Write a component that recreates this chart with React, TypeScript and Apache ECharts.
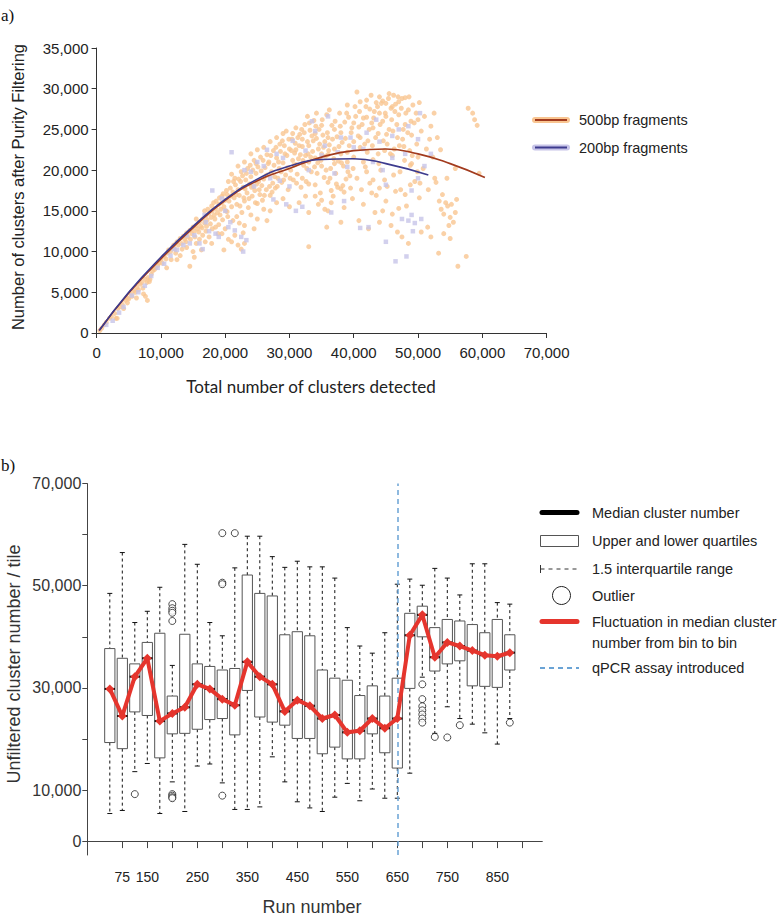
import React, { useEffect, useRef } from "react";
import * as echarts from "echarts";

// ---------------- Panel a data ----------------
// fitted curves (cluster counts)
const curve500X = [400, 5000, 10000, 15000, 20000, 25000, 30000, 35000, 40000, 45000, 50000, 55000, 60400];
const curve500Y = [300, 4900, 9100, 12900, 16300, 18700, 20200, 21600, 22400, 22600, 22000, 20800, 19100];
const curve200X = [400, 5000, 10000, 15000, 20000, 25000, 30000, 35000, 40000, 45000, 51600];
const curve200Y = [300, 5000, 9300, 13100, 16400, 18900, 20500, 21300, 21400, 20800, 19400];

// scatter points, in thousands of clusters [detected, after purity filtering]
const points500k: number[][] = [
  [0.5,0.3],[0.8,0.6],[1.2,1.0],[1.5,1.3],[2,1.8],[2.3,2.0],[2.8,2.4],[3,1.8],[3.3,3.0],[3.6,3.2],[4,3.5],[4.2,3.0],[4.5,4.0],[4.8,4.3],[5,4.2],[5.3,4.8],[5.5,4.5],[5.8,5.2],[6,5.0],[6.3,5.6],[6.5,5.3],[6.8,6.0],[7,6.2],[7.2,5.5],[7.5,6.6],[7.6,4.5],[7.8,6.2],[7.9,4.0],[8,6.8],[8.2,6.3],[8.3,6.6],[8.5,7.2],[8.7,7.6],[9,7.8],[9.2,8.0],[9.5,8.3],[9.7,8.6],[10,9.0],[3.2,1.8],[4.8,3.7],[6.2,4.3],[7.3,4.8],
  [10.2,8.6],[10.5,9.4],[10.8,9.1],[11,9.8],[11.2,10.2],[11.5,10.0],[11.8,10.5],[12,10.8],[12.2,10.3],[12.5,11.2],[12.7,10.8],[13,11.6],[13.2,11.0],[13.5,11.9],[13.7,11.5],[14,12.3],[14.2,11.8],[14.5,12.6],[14.8,12.2],[15,13.0],[15.2,12.5],[15.5,13.2],[15.7,12.8],[16,13.6],[16.2,13.1],[16.5,14.0],[16.8,13.5],[17,14.4],[17.2,13.9],[17.5,14.7],[17.8,14.2],[18,15.0],[18.3,14.5],[18.5,15.3],[18.8,14.8],[19,15.8],[19.3,15.2],[19.5,16.0],[19.8,15.5],[20,16.3],
  [12.5,9.0],[13,9.5],[14,10.5],[14.5,8.2],[15,10.0],[15.5,11.0],[16,11.5],[16.5,12.0],[17,12.5],[17.5,11.8],[18,12.8],[18.5,13.0],[19,13.3],[19.5,12.2],[20,12.8],[16.3,10.2],[15.2,9.3],[20.5,11.5],[21,11.2],[21.5,12.0],[22,10.8],[22.5,10.3],[23,11.0],[19.8,10.2],
  [15.5,14.0],[16.8,15.0],[18.2,16.0],[19.5,16.8],[20.2,17.5],
  [20.3,17.0],[20.6,16.2],[20.8,17.8],[21,15.5],[21.2,17.3],[21.4,16.6],[21.6,18.2],[21.8,15.8],[22,17.6],[22.2,16.9],[22.4,18.6],[22.6,14.8],[22.8,17.9],[23,16.2],[23.2,18.8],[23.4,17.2],[23.6,15.4],[23.8,18.3],[24,19.2],[24.2,16.8],[24.4,18.0],[24.6,17.5],[24.8,19.6],[25,15.9],[25.2,18.6],[25.4,17.0],[25.6,19.9],[25.8,16.3],[26,18.9],[26.2,20.3],[26.4,17.6],[26.6,19.4],[26.8,21.0],[27,16.9],[27.2,19.8],[27.4,18.4],[27.6,20.6],[27.8,17.8],[28,21.5],[28.2,19.0],[28.4,20.2],[28.6,22.3],[28.8,18.5],[29,20.9],[29.2,23.0],[29.4,19.4],[29.6,21.8],[29.8,17.6],[30,22.6],
  [21,19.5],[22,20.5],[23,21.0],[24,22.0],[24.5,21.2],[25,22.5],[26,22.8],[27,23.5],[28,24.0],[29,24.5],[23.5,20.2],[25.5,21.6],[26.5,21.9],[27.5,22.4],[28.5,23.2],[29.5,24.8],[22.5,19.8],[20.5,18.6],[21.5,19.0],[24.8,20.8],
  [24,14.5],[25,14.0],[26,15.2],[27,15.0],[28,16.0],[29,16.5],[30,15.5],[23,13.2],[24.5,12.8],[22.8,12.3],[26.5,13.8],
  [30.2,20.0],[30.4,23.8],[30.6,18.8],[30.8,22.1],[31,25.2],[31.2,19.5],[31.4,21.4],[31.6,24.4],[31.8,17.9],[32,22.9],[32.2,20.6],[32.4,25.6],[32.6,18.6],[32.8,23.5],[33,21.0],[33.2,24.9],[33.4,19.8],[33.6,22.3],[33.8,26.1],[34,18.2],[34.2,23.9],[34.4,20.9],[34.6,25.0],[34.8,17.2],[35,22.0],[35.2,24.3],[35.4,19.1],[35.6,21.7],[35.8,26.8],[36,18.5],[36.2,23.1],[36.4,20.2],[36.6,25.5],[36.8,16.8],[37,22.6],[37.2,19.6],[37.4,24.1],[37.6,21.1],[37.8,27.0],[38,17.7],[38.2,23.4],[38.4,20.5],[38.6,25.9],[38.8,18.9],[39,22.2],[39.2,26.5],[39.4,19.3],[39.6,24.6],[39.8,16.5],[40,21.6],
  [31,22.5],[32,23.8],[33,23.0],[34,24.5],[35,25.5],[30.5,21.2],[31.5,23.0],[32.5,21.8],[33.5,24.2],[34.5,22.6],[35.5,23.5],[36,24.0],[37,25.0],[38,24.6],[32,19.0],[33,18.3],[34,21.5],[35,20.5],[36,21.9],[37,20.8],[38,22.0],[39,21.0],[40,23.5],[36.5,17.5],[34.5,15.8],[33,14.8],[32.5,16.8],[35.5,15.2],[37.5,17.9],[31,20.7],[30.5,24.5],[33,10.6],[32.8,26.6],[34.2,27.0],[36.2,27.4],[39,28.0],[40.5,29.6],[38.5,17.3],[36,15.0],[35,16.3],
  [40.2,27.8],[40.5,19.0],[40.8,25.3],[41,22.8],[41.2,17.6],[41.5,26.4],[41.8,20.4],[42,28.6],[42.2,23.6],[42.5,18.4],[42.8,25.8],[43,21.3],[43.2,27.2],[43.5,16.9],[43.8,24.5],[44,29.0],[44.2,20.0],[44.5,26.0],[44.8,22.4],[45,28.2],[45.2,18.0],[45.5,25.0],[45.8,27.6],[46,21.8],[46.2,29.2],[46.5,17.4],[46.8,24.0],[47,26.8],[47.2,19.8],[47.5,28.8],[47.8,22.9],[48,25.6],[48.2,15.6],[48.5,27.4],[48.8,20.6],[49,24.3],[49.2,28.0],[49.5,18.6],[49.8,23.2],[50,26.2],
  [41,24.0],[42,26.5],[43,25.2],[44,27.0],[45,26.6],[46,27.8],[47,28.4],[48,28.9],[44.5,28.5],[45.5,29.4],[46.5,28.1],[43.5,28.3],[42.5,27.5],[41.5,21.0],[42,19.8],[43,18.8],[44,17.8],[45,16.2],[46,14.6],[44.5,15.0],[47,15.3],[48,17.0],[49,20.8],[50,21.6],[42.3,12.8],[44,13.6],[48.5,11.0],[47.5,11.8],[46.8,12.4],[40.8,13.8],[43.8,22.0],[45.2,23.2],[46.3,22.6],[47.6,23.8],[48.7,22.4],[40,25.8],[41,28.4],
  [50.2,28.3],[50.5,24.8],[50.8,20.2],[51,26.6],[51.3,22.6],[51.6,17.6],[52,25.4],[52.3,21.6],[52.6,19.0],[53,24.0],[53.3,16.2],[53.6,15.2],[54,14.6],[54.3,16.0],[54.6,15.6],[55,14.2],[55.2,15.8],[55.5,13.6],[55.8,14.8],[56,16.4],[54.8,13.2],[53.8,17.0],[52.8,18.5],[54,12.2],[55,11.6],[56.2,8.2],[53.2,9.8],[57.5,9.4],[51.5,13.0],[52,11.8],[50.5,12.4],[58.5,27.0],[58.8,26.2],[59.2,25.5],[57.8,27.6],[59.5,19.6],[55.8,20.2],[54.5,19.0],[53.5,22.5],[51.8,23.8],[50.3,18.4],[52.5,27.0],
  [17.3,15.2],[17.9,15.6],[18.6,16.2],[19.1,16.6],[19.7,17.1],[20.1,15.0],[20.4,14.3],[20.9,16.8],[21.3,18.6],[21.7,17.0],[22.1,18.9],[22.3,15.6],[22.7,19.3],[22.9,16.6],[23.1,17.7],[23.3,19.6],[23.7,16.5],[23.9,20.6],[24.1,17.9],[24.3,20.0],[24.7,16.0],[24.9,18.3],[25.1,20.4],[25.3,17.6],[25.7,18.1],[25.9,21.2],[26.1,16.9],[26.3,19.3],[26.7,20.8],[26.9,18.0],[27.1,21.8],[27.3,17.3],[27.7,19.2],[27.9,22.8],[28.1,18.0],[28.3,21.0],[28.7,19.8],[28.9,23.6],[29.1,18.8],[29.3,22.0],[29.7,20.3],[29.9,23.8],[30.1,19.0],[30.3,22.4],[30.7,20.6],[30.9,23.3],[31.1,18.4],[31.3,24.0],[31.7,21.9],[31.9,25.0],[32.1,21.2],[32.3,24.6],[32.7,20.2],[32.9,22.0],[33.1,25.8],[33.3,21.6],[33.7,23.6],[33.9,20.4],[34.1,25.4],[34.3,19.6],[34.7,23.2],[34.9,21.2],[35.1,26.2],[35.3,22.8],[35.7,20.0],[35.9,24.6],[36.1,22.4],[36.3,19.0],[36.7,23.8],[36.9,21.4],[37.1,26.0],[37.3,18.3],[37.7,22.9],[37.9,25.4],[38.1,20.9],[38.3,18.1],[38.7,23.9],[38.9,27.0],[39.1,19.8],[39.3,23.0],[39.7,25.2],[39.9,20.2],
  [40.3,26.6],[40.7,24.2],[40.9,27.2],[41.3,25.6],[41.7,23.2],[41.9,27.8],[42.1,22.2],[42.4,25.0],[42.7,29.2],[42.9,23.0],[43.1,26.4],[43.4,24.0],[43.7,27.8],[43.9,20.8],[44.1,25.6],[44.3,28.2],[44.6,23.6],[44.9,27.0],[45.1,24.4],[45.4,28.8],[45.7,22.0],[45.9,26.2],[46.1,24.8],[46.4,27.2],[46.7,25.6],[46.9,29.0],[47.1,23.0],[47.4,27.6],[47.7,25.0],[47.9,21.2],[48.1,27.0],[48.4,24.6],[48.6,29.0],[48.9,26.0],[49.1,21.8],[49.4,25.8],[49.7,27.0],[49.9,19.8],
  [31.5,16.0],[34,16.8],[36.5,16.0],[38.5,15.4],[39.5,17.8],[41.5,15.8],[42.8,17.2],[44.8,18.8],[46.2,19.4],[47.3,17.6],[48.8,18.2],[50.2,16.6],[43.3,14.8],[45.8,13.2],[38,13.6],[35.8,13.0],
  [10.9,8.0],[11.6,9.0],[12.3,9.8],[13.3,10.3],[13.9,11.2],[14.6,11.5],[15.3,11.8],[15.9,12.4],[16.4,12.9],[17.1,13.1],[17.7,13.4],[18.4,14.0],[19.2,14.5],[19.6,13.9],[20.3,14.9],[21.2,13.8],[22.2,13.5],[21.8,14.3],[18.9,12.2],[17.9,11.0],[16.9,11.2]
];
const points200k: number[][] = [
  [1.5,1.0],[2.5,1.5],[3.5,2.5],[4.2,3.2],[5.5,4.6],[6.5,5.0],[7.5,5.8],[8.5,7.0],[9.5,8.0],[10.5,8.5],[11.5,9.5],[12.5,10.2],[13.5,10.8],[14.5,11.0],[15.2,12.0],[16,11.0],[16.5,10.3],[17,13.6],[17.5,12.5],[18.5,12.2],[19,11.8],[19.5,16.5],[20.5,13.0],[21.5,12.6],[22.5,11.8],[22.8,10.0],[23.3,11.4],[21,22.2],[23,20.0],[24.5,18.0],[25,21.0],[26,20.5],[27,19.0],[28,22.0],[29,21.5],[30,18.0],[31,15.0],[32,15.5],[33,20.0],[34,24.8],[35,21.8],[36,26.6],[37,19.6],[38,24.0],[39,20.4],[40,22.8],[41,12.9],[42,24.6],[43,21.0],[44,23.5],[45,18.2],[46,21.5],[47,25.0],[48,22.0],[49,17.5],[50,19.0],[51,20.5],[52,22.0],[47.5,14.0],[48.5,13.8],[49,14.5],[49.5,13.5],[50.5,14.0],[48.2,9.4],[49.2,12.5],[45,11.2],[46.5,8.8],[42.3,13.0],[50.3,27.0],[18,17.5],[16.8,14.5],[20,15.0],[20.8,13.6],[12,10.3],[14,12.0],
  [24,19.8],[26.5,22.5],[28.5,18.7],[30.5,23.6],[32.5,22.4],[33.5,26.0],[35.5,23.0],[37.5,22.2],[39.5,24.0],[41.5,22.6],[43.5,26.2],[44.5,20.0],[46,24.2],[48.5,25.4],[50,23.8],[27.5,16.4],[29.5,15.8],[36.5,14.8],[38.5,16.2]
];
const panelAYTicks = [0, 5000, 10000, 15000, 20000, 25000, 30000, 35000];

// ---------------- Panel b data (thousands per tile) ----------------
const runBins = [75, 100, 125, 150, 175, 200, 225, 250, 275, 300, 325, 350, 375, 400, 425, 450, 475, 500, 525, 550, 575, 600, 625, 650, 675, 700, 725, 750, 775, 800, 825, 850, 875];
const whiskerLow = [5.4, 6.0, 13.6, 15.2, 5.4, 11.6, 5.8, 14.7, 15.1, 11.4, 6.2, 6.2, 6.7, 16.5, 11.6, 7.7, 6.5, 5.8, 8.6, 11.3, 7.9, 10.2, 8.4, 8.4, 13.3, 32.1, 21.1, 26.3, 24.0, 22.9, 21.2, 19.0, 24.0];
const quartile1 = [19.3, 18.1, 25.3, 24.6, 16.3, 21.0, 21.1, 21.9, 23.8, 24.0, 20.8, 29.5, 24.3, 23.3, 22.7, 20.1, 20.1, 17.1, 18.4, 16.1, 16.1, 21.0, 17.3, 14.3, 29.9, 40.0, 33.3, 34.7, 35.3, 30.4, 30.3, 30.1, 33.5];
const medians = [29.8, 24.5, 32.2, 35.8, 23.5, 25.0, 26.2, 30.7, 29.8, 27.8, 26.6, 35.1, 32.2, 30.7, 25.4, 27.6, 26.5, 24.0, 24.7, 21.3, 21.6, 24.0, 22.1, 24.0, 40.3, 44.3, 36.0, 38.9, 38.2, 37.3, 36.4, 36.2, 36.9];
const quartile3 = [37.7, 35.8, 34.7, 38.9, 40.7, 28.4, 40.5, 34.7, 34.2, 33.5, 33.8, 52.1, 48.5, 48.0, 40.4, 41.0, 40.2, 33.5, 31.9, 31.5, 28.5, 30.4, 28.4, 31.9, 44.6, 46.0, 41.8, 43.4, 43.1, 42.4, 40.8, 43.4, 40.4];
const whiskerHigh = [48.5, 56.5, 42.8, 45.0, 49.7, 34.4, 58.1, 54.2, 42.8, 40.2, 53.5, 59.7, 59.7, 55.7, 53.6, 54.8, 53.7, 53.7, 51.5, 41.8, 38.2, 36.8, 40.8, 50.3, 51.3, 50.1, 53.4, 51.5, 48.2, 54.3, 54.3, 46.7, 46.4];
const outliers: number[][] = [
  [125, 9.2], [200, 46.4], [200, 45.6], [200, 45.1], [200, 44.7], [200, 43.1], [200, 9.2], [200, 8.9], [200, 8.6], [200, 8.4],
  [300, 60.3], [300, 50.6], [300, 50.3], [300, 8.9], [325, 60.3],
  [700, 30.7], [700, 27.8], [700, 26.4], [700, 25.6], [700, 24.8], [700, 24.0], [700, 23.2],
  [725, 20.4], [750, 20.3], [775, 22.7], [875, 23.2]
];
const qpcrRun = 650;
const runTicks = [100, 150, 200, 250, 300, 350, 400, 450, 500, 550, 600, 650, 700, 750, 800, 850, 900];
const runTickLabels = [100, 150, 250, 350, 450, 550, 650, 750, 850];
const runLabelText: Record<number, string> = { 100: "75" };
const panelBYTicks = [0, 10000, 20000, 30000, 40000, 50000, 60000, 70000];
const panelBYLabels = [0, 10000, 30000, 50000, 70000];

const SANS = "Liberation Sans, Arial, sans-serif";
const fmt = (v: number) => Math.round(v).toLocaleString("en-US");

export default function App() {
  const ref = useRef<HTMLDivElement>(null);
  useEffect(() => {
    if (!ref.current) return;
    const chart = echarts.init(ref.current, null, { renderer: "svg" });

    const boxData = runBins.map((r, i) => [r, whiskerLow[i] * 1000, quartile1[i] * 1000, medians[i] * 1000, quartile3[i] * 1000, whiskerHigh[i] * 1000]);

    const axisLineA = { show: true, lineStyle: { color: "#333", width: 1 } };
    const legendText = (x: number, y: number, text: string) => ({
      type: "text", x, y, silent: true,
      style: { text, font: `14.5px ${SANS}`, fill: "#222", align: "left", verticalAlign: "middle" },
    });

    const option: any = {
      animation: false,
      backgroundColor: "#fff",
      grid: [
        { left: 96.6, top: 48, width: 450, height: 288 },
        { left: 87.3, top: 483.6, width: 455, height: 371.4 },
      ],
      xAxis: [
        {
          gridIndex: 0, type: "value", min: 0, max: 70000, interval: 10000,
          axisLine: axisLineA, splitLine: { show: false },
          axisTick: { show: true, length: 5, lineStyle: { color: "#333" } },
          axisLabel: { fontSize: 15, color: "#222", fontFamily: SANS, margin: 9, formatter: fmt },
        },
        {
          gridIndex: 1, type: "value", min: 30, max: 940,
          axisLine: { show: true, lineStyle: { color: "#444", width: 1 } }, splitLine: { show: false },
          axisTick: { show: true, length: 7, customValues: runTicks, lineStyle: { color: "#444" } },
          axisLabel: {
            fontSize: 14, color: "#222", fontFamily: SANS, margin: 15, customValues: runTickLabels,
            formatter: (v: number) => runLabelText[v] ?? String(v),
          },
        },
      ],
      yAxis: [
        {
          gridIndex: 0, type: "value", min: -370, max: 35000,
          axisLine: axisLineA, splitLine: { show: false },
          axisTick: { show: true, length: 5, customValues: panelAYTicks, lineStyle: { color: "#333" } },
          axisLabel: { fontSize: 15, color: "#222", fontFamily: SANS, margin: 8, customValues: panelAYTicks, formatter: fmt },
        },
        {
          gridIndex: 1, type: "value", min: -2720, max: 70000,
          axisLine: { show: true, lineStyle: { color: "#444", width: 1 } }, splitLine: { show: false },
          axisTick: { show: true, length: 5, customValues: panelBYTicks, lineStyle: { color: "#444" } },
          axisLabel: { fontSize: 16, color: "#333", fontFamily: SANS, margin: 6, customValues: panelBYLabels, formatter: fmt },
        },
      ],
      series: [
        {
          type: "scatter", xAxisIndex: 0, yAxisIndex: 0, symbol: "circle", symbolSize: 5,
          itemStyle: { color: "#f9c591" }, data: points500k.map((p) => [p[0] * 1000, p[1] * 1000]), z: 2,
        },
        {
          type: "scatter", xAxisIndex: 0, yAxisIndex: 0, symbol: "rect", symbolSize: 4.5,
          itemStyle: { color: "#c7c4e8" }, data: points200k.map((p) => [p[0] * 1000, p[1] * 1000]), z: 3,
        },
        {
          type: "line", xAxisIndex: 0, yAxisIndex: 0, smooth: true, showSymbol: false, z: 5,
          lineStyle: { color: "#a23b1e", width: 1.6 }, data: curve500X.map((x, i) => [x, curve500Y[i]]),
        },
        {
          type: "line", xAxisIndex: 0, yAxisIndex: 0, smooth: true, showSymbol: false, z: 6,
          lineStyle: { color: "#3d3b8e", width: 1.6 }, data: curve200X.map((x, i) => [x, curve200Y[i]]),
        },
        {
          type: "custom", xAxisIndex: 1, yAxisIndex: 1, z: 2,
          encode: { x: 0, y: [1, 2, 3, 4, 5] },
          data: boxData,
          renderItem: (params: any, api: any) => {
            const x = api.value(0);
            const lo = api.coord([x, api.value(1)]);
            const q1 = api.coord([x, api.value(2)]);
            const md = api.coord([x, api.value(3)]);
            const q3 = api.coord([x, api.value(4)]);
            const hi = api.coord([x, api.value(5)]);
            const w = api.size([25, 0])[0] * 0.82;
            const cx = lo[0];
            const dash = { stroke: "#111", lineWidth: 1, lineDash: [3, 3] };
            const solid = { stroke: "#111", lineWidth: 1 };
            return {
              type: "group",
              children: [
                { type: "line", shape: { x1: cx, y1: hi[1], x2: cx, y2: q3[1] }, style: dash },
                { type: "line", shape: { x1: cx, y1: q1[1], x2: cx, y2: lo[1] }, style: dash },
                { type: "line", shape: { x1: cx - 2.5, y1: hi[1], x2: cx + 2.5, y2: hi[1] }, style: solid },
                { type: "line", shape: { x1: cx - 2.5, y1: lo[1], x2: cx + 2.5, y2: lo[1] }, style: solid },
                { type: "rect", shape: { x: cx - w / 2, y: q3[1], width: w, height: q1[1] - q3[1] }, style: { fill: "#fff", stroke: "#555", lineWidth: 1 } },
                { type: "line", shape: { x1: cx - w / 2, y1: md[1], x2: cx + w / 2, y2: md[1] }, style: { stroke: "#000", lineWidth: 2 } },
              ],
            };
          },
        },
        {
          type: "scatter", xAxisIndex: 1, yAxisIndex: 1, symbol: "circle", symbolSize: 7, z: 3,
          itemStyle: { color: "#fff", borderColor: "#222", borderWidth: 1 },
          data: outliers.map((o) => [o[0], o[1] * 1000]),
        },
        {
          type: "line", xAxisIndex: 1, yAxisIndex: 1, z: 6, symbol: "diamond", symbolSize: 9, showSymbol: true,
          lineStyle: { color: "#e5352d", width: 4 }, itemStyle: { color: "#e5352d" },
          data: runBins.map((r, i) => [r, medians[i] * 1000]),
          markLine: {
            silent: true, symbol: ["none", "none"], label: { show: false },
            lineStyle: { color: "#6aa3d5", width: 1.5, type: [5, 4] },
            data: [{ xAxis: qpcrRun }],
          },
        },
      ],
      graphic: [
        { type: "text", x: 1, y: 15, style: { text: "a)", font: "17px Liberation Serif, serif", fill: "#111", align: "left", verticalAlign: "middle" } },
        { type: "text", x: 1, y: 465, style: { text: "b)", font: "17px Liberation Serif, serif", fill: "#111", align: "left", verticalAlign: "middle" } },
        { type: "text", x: 18, y: 187, rotation: Math.PI / 2, style: { text: "Number of clusters after Purity Filtering", font: `16.5px ${SANS}`, fill: "#222", align: "center", verticalAlign: "middle" } },
        { type: "text", x: 311, y: 386, style: { text: "Total number of clusters detected", font: "17px Lato, sans-serif", fill: "#222", align: "center", verticalAlign: "middle" } },
        { type: "text", x: 13.5, y: 664, rotation: Math.PI / 2, style: { text: "Unfiltered cluster number / tile", font: `18px ${SANS}`, fill: "#333", align: "center", verticalAlign: "middle" } },
        { type: "text", x: 312, y: 906.5, style: { text: "Run number", font: `18px ${SANS}`, fill: "#333", align: "center", verticalAlign: "middle" } },
        // panel a legend
        { type: "line", shape: { x1: 535, y1: 120, x2: 567, y2: 120 }, style: { stroke: "#f9c591", lineWidth: 6, lineCap: "round" } },
        { type: "line", shape: { x1: 535, y1: 120, x2: 567, y2: 120 }, style: { stroke: "#a23b1e", lineWidth: 2 } },
        { type: "line", shape: { x1: 535, y1: 147.5, x2: 567, y2: 147.5 }, style: { stroke: "#c7c4e8", lineWidth: 6, lineCap: "round" } },
        { type: "line", shape: { x1: 535, y1: 147.5, x2: 567, y2: 147.5 }, style: { stroke: "#3d3b8e", lineWidth: 2 } },
        legendText(579, 120, "500bp fragments"),
        legendText(579, 147.5, "200bp fragments"),
        // panel b legend
        { type: "line", shape: { x1: 542, y1: 512.5, x2: 577, y2: 512.5 }, style: { stroke: "#000", lineWidth: 5, lineCap: "round" } },
        legendText(592, 512.5, "Median cluster number"),
        { type: "rect", shape: { x: 540.5, y: 535.5, width: 38, height: 11 }, style: { fill: "#fff", stroke: "#555", lineWidth: 1 } },
        legendText(592, 540.5, "Upper and lower quartiles"),
        { type: "line", shape: { x1: 540.5, y1: 565, x2: 540.5, y2: 573 }, style: { stroke: "#333", lineWidth: 1 } },
        { type: "line", shape: { x1: 540.5, y1: 569, x2: 579, y2: 569 }, style: { stroke: "#333", lineWidth: 1, lineDash: [4, 4] } },
        legendText(592, 568.5, "1.5 interquartile range"),
        { type: "circle", shape: { cx: 561.5, cy: 595.5, r: 9 }, style: { fill: "none", stroke: "#222", lineWidth: 1 } },
        legendText(592, 596, "Outlier"),
        { type: "line", shape: { x1: 542, y1: 621.5, x2: 577, y2: 621.5 }, style: { stroke: "#e5352d", lineWidth: 5, lineCap: "round" } },
        legendText(592, 622, "Fluctuation in median cluster"),
        legendText(592, 643, "number from bin to bin"),
        { type: "line", shape: { x1: 540, y1: 668, x2: 579, y2: 668 }, style: { stroke: "#6aa3d5", lineWidth: 2, lineDash: [5, 4] } },
        legendText(592, 668, "qPCR assay introduced"),
      ],
    };
    chart.setOption(option);
    return () => chart.dispose();
  }, []);
  return <div ref={ref} style={{ position: "fixed", left: 0, top: 0, width: 784, height: 919 }} />;
}
